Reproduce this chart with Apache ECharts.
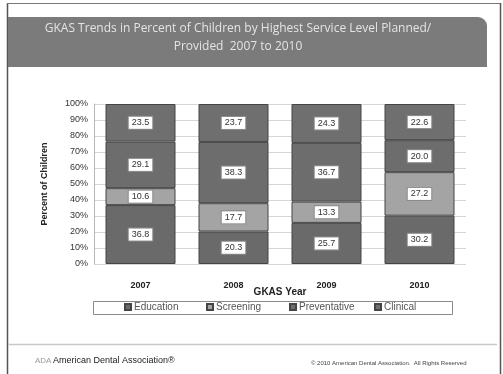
<!DOCTYPE html>
<html>
<head>
<meta charset="utf-8">
<script src="https://cdn.jsdelivr.net/npm/echarts@6/dist/echarts.min.js"></script>
<style>
  html, body { margin: 0; padding: 0; background: #fff; }
  #chart { width: 503px; height: 374px; }
</style>
</head>
<body>
<div id="chart"></div>
<script>
// GKAS service level shares by year (percent of children)
const years = ['2007', '2008', '2009', '2010'];
const education = [36.8, 20.3, 25.7, 30.2];
const screening = [10.6, 17.7, 13.3, 27.2];
const preventative = [29.1, 38.3, 36.7, 20.0];
const clinical = [23.5, 23.7, 24.3, 22.6];
const yTicks = [0, 10, 20, 30, 40, 50, 60, 70, 80, 90, 100];

const seriesDefs = [
  { name: 'Education', data: education, color: '#6a6a6a' },
  { name: 'Screening', data: screening, color: '#a4a4a4' },
  { name: 'Preventative', data: preventative, color: '#6d6d6d' },
  { name: 'Clinical', data: clinical, color: '#6f6f6f' }
];

const font = 'Arial, "Liberation Sans", sans-serif';
const legendLefts = [124, 206, 289, 374];

const chart = echarts.init(document.getElementById('chart'), null, { renderer: 'canvas' });

chart.setOption({
  animation: false,
  backgroundColor: '#ffffff',
  grid: { left: 94, right: 37, top: 104, bottom: 110, containLabel: false },
  legend: seriesDefs.map((s, i) => ({
    data: [s.name],
    left: legendLefts[i],
    top: 302,
    itemWidth: 6,
    itemHeight: 6,
    itemGap: 0,
    padding: 0,
    icon: 'rect',
    textStyle: { fontFamily: font, fontSize: 10, color: '#555', padding: [0, 0, 0, -2] }
  })),
  xAxis: {
    type: 'category',
    data: years,
    name: 'GKAS Year',
    nameLocation: 'middle',
    nameGap: 23,
    nameMoveOverlap: false,
    nameTextStyle: { fontFamily: font, fontSize: 10, fontWeight: 'bold', color: '#222' },
    axisLine: { show: false },
    axisTick: { show: false },
    axisLabel: { fontFamily: font, fontSize: 9, fontWeight: 'bold', color: '#222', margin: 17 }
  },
  yAxis: {
    type: 'value',
    min: 0,
    max: 100,
    interval: 10,
    name: 'Percent of Children',
    nameLocation: 'middle',
    nameGap: 45,
    nameMoveOverlap: false,
    nameTextStyle: { fontFamily: font, fontSize: 9, fontWeight: 'bold', color: '#222' },
    axisLine: { show: true, lineStyle: { color: '#b8b8b8' } },
    axisTick: { show: false },
    splitLine: { lineStyle: { color: '#d6d6d6', width: 1 } },
    axisLabel: {
      fontFamily: font, fontSize: 9, color: '#333', margin: 6,
      formatter: v => (yTicks.includes(v) ? v + '%' : '')
    }
  },
  series: seriesDefs.map(s => ({
    name: s.name,
    type: 'bar',
    stack: 'total',
    data: s.data,
    barWidth: 70,
    itemStyle: { color: s.color, borderColor: '#454545', borderWidth: 1 },
    label: {
      show: true,
      position: 'inside',
      formatter: p => p.value.toFixed(1),
      fontFamily: font,
      fontSize: 9,
      color: '#333',
      backgroundColor: '#ffffff',
      borderColor: '#8a8a8a',
      borderWidth: 1,
      padding: [2, 3, 1, 3]
    }
  })),
  graphic: [
    // page frame
    { type: 'line', shape: { x1: 7.5, y1: 3, x2: 7.5, y2: 374 }, style: { stroke: '#555', lineWidth: 1.5 } },
    { type: 'line', shape: { x1: 7, y1: 3.5, x2: 501, y2: 3.5 }, style: { stroke: '#777', lineWidth: 1 } },
    { type: 'line', shape: { x1: 500.5, y1: 3, x2: 500.5, y2: 374 }, style: { stroke: '#555', lineWidth: 1.5 } },
    // title banner
    {
      type: 'rect',
      shape: { x: 8, y: 17, width: 479, height: 50, r: [0, 9, 0, 0] },
      style: { fill: '#7b7b7b' }
    },
    {
      type: 'text',
      x: 238, y: 29,
      style: {
        text: 'GKAS Trends in Percent of Children by Highest Service Level Planned/',
        fill: '#e4e4e4', font: '12px "Open Sans", sans-serif', align: 'center', verticalAlign: 'middle'
      }
    },
    {
      type: 'text',
      x: 238, y: 47,
      style: {
        text: 'Provided  2007 to 2010',
        fill: '#e4e4e4', font: '12px "Open Sans", sans-serif', align: 'center', verticalAlign: 'middle'
      }
    },
    // legend frame
    {
      type: 'rect',
      shape: { x: 93.5, y: 301.5, width: 359, height: 13 },
      style: { fill: 'none', stroke: '#8a8a8a', lineWidth: 1 },
      z: -1
    },
    // footer
    { type: 'line', shape: { x1: 8, y1: 344.5, x2: 497, y2: 344.5 }, style: { stroke: '#c8c8c8', lineWidth: 1.5 } },
    {
      type: 'text', x: 35, y: 361,
      style: { text: 'ADA', fill: '#9a9a9a', font: '8px ' + font, verticalAlign: 'middle' }
    },
    {
      type: 'text', x: 53, y: 361,
      style: { text: 'American Dental Association\u00ae', fill: '#222', font: '9px ' + font, verticalAlign: 'middle' }
    },
    {
      type: 'text', x: 311, y: 363,
      style: { text: '\u00a9 2010 American Dental Association.  All Rights Reserved', fill: '#444', font: '6px ' + font, verticalAlign: 'middle' }
    }
  ]
});
</script>
</body>
</html>
